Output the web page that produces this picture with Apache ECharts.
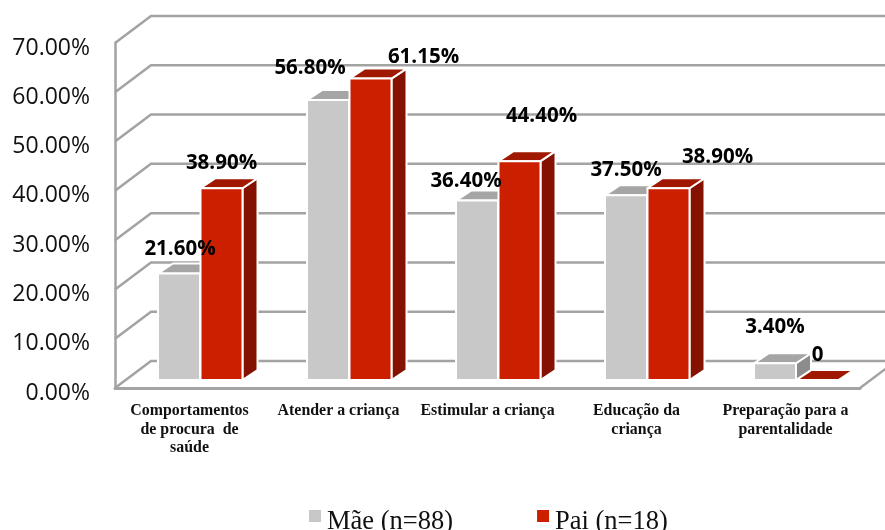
<!DOCTYPE html>
<html>
<head>
<meta charset="utf-8">
<style>
    html, body { margin: 0; padding: 0; background: #fff; }
    #chart { width: 885px; height: 530px; }
</style>
<script src="https://cdn.jsdelivr.net/npm/echarts@6/dist/echarts.min.js"></script>
</head>
<body>
<div id="chart"></div>
<script>
var categories = [
    'Comportamentos\nde procura  de\nsaúde',
    'Atender a criança',
    'Estimular a criança',
    'Educação da\ncriança',
    'Preparação para a\nparentalidade'
];
var maeValues = [21.6, 56.8, 36.4, 37.5, 3.4];
var paiValues = [38.9, 61.15, 44.4, 38.9, 0];
var yTicks = [0, 10, 20, 30, 40, 50, 60, 70];

// hand placed labels, offset from the middle of the bar top
var maeLabelOffsets = [[1, -24], [-18, -32], [-11, -19], [0, -25], [0, -36]];
var paiLabelOffsets = [[0, -25], [53, -21], [22, -45], [49, -31], [0, -25]];

var WALL_DX = 36, WALL_DY = -27;     // depth of the chart box
var BAR_DX = 10.5, BAR_DY = -8;      // where the bars stand on the floor
var BAR_W = 42, DEPTH_DX = 15, DEPTH_DY = -10;

function wallItem(params, api) {
    var box = params.coordSys;
    var y = api.coord([0, api.value(1)])[1];
    var left = box.x, right = box.x + box.width;
    var points = [[left, y], [left + WALL_DX, y + WALL_DY], [right + WALL_DX, y + WALL_DY]];
    var children = [{
        type: 'polyline',
        shape: { points: points },
        style: { stroke: '#a3a3a3', lineWidth: 2.5, fill: null }
    }];
    if (api.value(1) === 0) {
        children.push({
            type: 'line',
            shape: { x1: right, y1: y, x2: right + WALL_DX, y2: y + WALL_DY },
            style: { stroke: '#a3a3a3', lineWidth: 2.5 }
        });
    }
    return { type: 'group', children: children };
}

function barRenderer(shift, front, top, side) {
    return function (params, api) {
        var zero = api.coord([api.value(0), 0]);
        var head = api.coord([api.value(0), api.value(1)]);
        var x = zero[0] + BAR_DX + shift;
        var y0 = zero[1] + BAR_DY;
        var y1 = head[1] + BAR_DY;
        var edge = { stroke: '#fff', lineWidth: 2, lineJoin: 'round' };
        var children = [];
        children.push({
            type: 'polygon',
            shape: { points: [[x + BAR_W, y1], [x + BAR_W + DEPTH_DX, y1 + DEPTH_DY], [x + BAR_W + DEPTH_DX, y0 + DEPTH_DY], [x + BAR_W, y0]] },
            style: Object.assign({ fill: side }, edge)
        });
        children.push({
            type: 'polygon',
            shape: { points: [[x, y1], [x + DEPTH_DX, y1 + DEPTH_DY], [x + BAR_W + DEPTH_DX, y1 + DEPTH_DY], [x + BAR_W, y1]] },
            style: Object.assign({ fill: top }, edge)
        });
        if (y0 - y1 > 0) {
            children.push({
                type: 'rect',
                shape: { x: x, y: y1, width: BAR_W, height: y0 - y1 },
                style: Object.assign({ fill: front }, edge)
            });
        }
        return { type: 'group', children: children };
    };
}

function labelRenderer(shift, offsets) {
    return function (params, api) {
        var zero = api.coord([api.value(0), 0]);
        var head = api.coord([api.value(0), api.value(1)]);
        var off = offsets[params.dataIndex];
        var v = api.value(1);
        return {
            type: 'text',
            x: zero[0] + BAR_DX + shift + off[0],
            y: head[1] + BAR_DY + off[1],
            style: {
                text: v === 0 ? '0' : v.toFixed(2) + '%',
                font: 'bold 20.5px "Open Sans", sans-serif',
                fill: '#000',
                align: 'center',
                verticalAlign: 'middle'
            }
        };
    };
}

function toPairs(values) {
    return values.map(function (v, i) { return [i, v]; });
}

var chart = echarts.init(document.getElementById('chart'), null, { renderer: 'canvas' });

var option = {
    animation: false,
    backgroundColor: '#fff',
    grid: { left: 115, right: 25, top: 43, bottom: 142, containLabel: false },
    legend: {
        data: ['Mãe (n=88)', 'Pai (n=18)'],
        left: 304,
        top: 503.5,
        icon: 'rect',
        itemWidth: 12,
        itemHeight: 12,
        itemGap: 84,
        formatter: '{t|{name}}',
        textStyle: {
            rich: {
                t: {
                    fontFamily: '"Liberation Serif", serif',
                    fontSize: 26.5,
                    color: '#111',
                    padding: [12, 0, 0, 1]
                }
            }
        }
    },
    xAxis: {
        type: 'category',
        data: categories,
        axisTick: { show: false },
        axisLine: { lineStyle: { color: '#a3a3a3', width: 3 } },
        axisLabel: {
            interval: 0,
            margin: 14,
            color: '#111',
            fontFamily: '"Liberation Serif", serif',
            fontWeight: 'bold',
            fontSize: 15.9,
            lineHeight: 18.5
        }
    },
    yAxis: {
        type: 'value',
        min: 0,
        max: 70,
        interval: 10,
        splitLine: { show: false },
        axisTick: { show: false },
        axisLine: { show: true, lineStyle: { color: '#a3a3a3', width: 2.5 } },
        axisLabel: {
            margin: 25,
            formatter: function (v) { return '{t|' + v.toFixed(2) + '%}'; },
            rich: {
                t: {
                    color: '#111',
                    fontFamily: '"Open Sans", sans-serif',
                    fontSize: 23,
                    padding: [10, 0, 0, 0]
                }
            }
        }
    },
    series: [
        {
            name: 'walls',
            type: 'custom',
            z: 1,
            silent: true,
            encode: { x: 0, y: 1 },
            data: yTicks.map(function (t) { return [0, t]; }),
            renderItem: wallItem
        },
        {
            name: 'Mãe (n=88)',
            type: 'custom',
            z: 2,
            encode: { x: 0, y: 1 },
            itemStyle: { color: '#c8c8c8' },
            data: toPairs(maeValues),
            renderItem: barRenderer(-BAR_W, '#c8c8c8', '#a5a5a5', '#8c8c8c')
        },
        {
            name: 'Pai (n=18)',
            type: 'custom',
            z: 3,
            encode: { x: 0, y: 1 },
            itemStyle: { color: '#cc1f00' },
            data: toPairs(paiValues),
            renderItem: barRenderer(0.5, '#cc1f00', '#a01800', '#851200')
        },
        {
            name: 'maeLabels',
            type: 'custom',
            z: 4,
            encode: { x: 0, y: 1 },
            data: toPairs(maeValues),
            renderItem: labelRenderer(-BAR_W / 2, maeLabelOffsets)
        },
        {
            name: 'paiLabels',
            type: 'custom',
            z: 4,
            encode: { x: 0, y: 1 },
            data: toPairs(paiValues),
            renderItem: labelRenderer(BAR_W / 2 + 0.5, paiLabelOffsets)
        }
    ]
};

chart.setOption(option);
</script>
</body>
</html>
